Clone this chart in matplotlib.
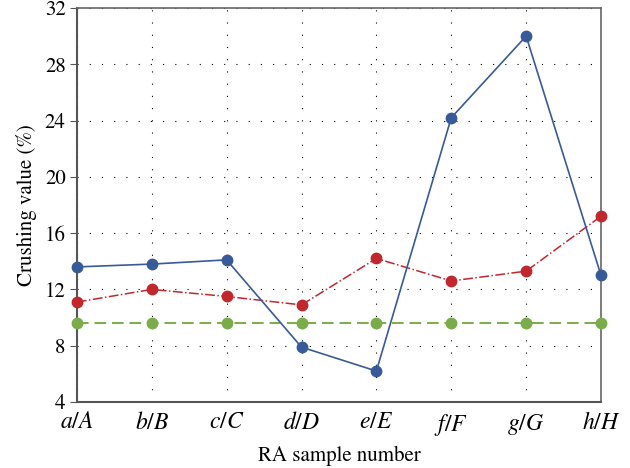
import matplotlib
matplotlib.use("Agg")
import matplotlib.pyplot as plt

# RA sample labels and crushing values (%)
samples = ['a/A', 'b/B', 'c/C', 'd/D', 'e/E', 'f/F', 'g/G', 'h/H']
blue_vals = [13.6, 13.8, 14.1, 7.9, 6.2, 24.2, 30.0, 13.0]
red_vals = [11.1, 12.0, 11.5, 10.9, 14.2, 12.6, 13.3, 17.2]
green_vals = [9.6, 9.6, 9.6, 9.6, 9.6, 9.6, 9.6, 9.6]
y_ticks = [4, 8, 12, 16, 20, 24, 28, 32]

plt.rcParams['font.family'] = ['STIXGeneral', 'Liberation Serif', 'DejaVu Serif']
plt.rcParams['mathtext.fontset'] = 'stix'

fig = plt.figure(figsize=(6.3, 4.68), dpi=100)
ax = fig.add_axes([0.122, 0.141, 0.832, 0.842])

x = list(range(len(samples)))
ax.plot(x, green_vals, color='#7aad4a', ls=(0, (6, 3)), lw=1.4,
        marker='o', ms=7.5, zorder=3, clip_on=False)
ax.plot(x, red_vals, color='#c1272d', ls='-.', lw=1.1,
        marker='o', ms=7.5, zorder=4, clip_on=False)
ax.plot(x, blue_vals, color='#385a98', ls='-', lw=1.2,
        marker='o', ms=7.5, zorder=5, clip_on=False)

ax.set_xlim(0, len(samples) - 1)
ax.set_ylim(4, 32)
ax.set_yticks(y_ticks)
ax.set_xticks(x)
ax.set_xticklabels(['$' + s + '$' for s in samples], fontsize=17)
ax.tick_params(axis='y', labelsize=15, length=5, direction='out', color='#555555', pad=3)
ax.tick_params(axis='x', length=0, pad=7)
ax.grid(True, color='black', ls=(0, (1, 10)), lw=0.8)

for side in ['left', 'bottom']:
    ax.spines[side].set_color('#555555')
    ax.spines[side].set_linewidth(1.5)
for side in ['top', 'right']:
    ax.spines[side].set_color('#666666')
    ax.spines[side].set_linewidth(1.2)

ax.set_xlabel('RA sample number', fontsize=15, labelpad=6)
ax.set_ylabel('Crushing value (%)', fontsize=15, labelpad=6)

fig.savefig('out.png', dpi=100)
